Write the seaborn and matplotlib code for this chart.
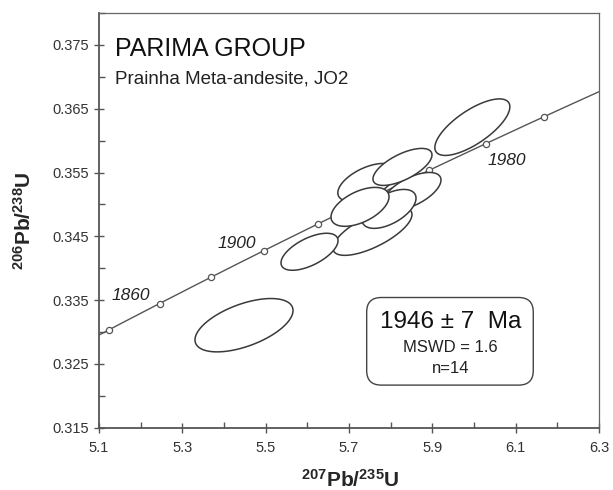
import numpy as np
import pandas as pd
import matplotlib
matplotlib.use('Agg')
import matplotlib.pyplot as plt
from matplotlib.patches import FancyBboxPatch
import seaborn as sns

# U-Pb zircon data (ellipse centres, half extents, correlation)
ell_x = [5.448, 5.996, 5.7432, 5.8511, 5.7563, 5.7960, 5.7264, 5.8283, 5.6052]
ell_y = [0.33107, 0.36211, 0.35345, 0.35204, 0.34578, 0.34930, 0.34962, 0.35588, 0.34258]
ell_dx = [0.1176, 0.090, 0.070, 0.0696, 0.0948, 0.0648, 0.0696, 0.0708, 0.0684]
ell_dy = [0.00418, 0.00443, 0.00297, 0.00297, 0.00376, 0.00305, 0.00305, 0.00290, 0.00290]
ell_rho = [0.55, 0.72, 0.55, 0.60, 0.70, 0.55, 0.52, 0.65, 0.60]

# concordia ages (Ma)
tick_ages = [1840, 1860, 1880, 1900, 1920, 1940, 1960, 1980, 2000]
label_ages = ['1860', '1900', '1980']
label_x = [5.1305, 5.3856, 6.0335]
label_y = [0.33498, 0.34312, 0.35611]

l238 = 1.55125e-10
l235 = 9.8485e-10

def concordia(age_ma):
    t = np.asarray(age_ma, dtype=float) * 1e6
    return np.exp(l235 * t) - 1, np.exp(l238 * t) - 1

sns.set_theme(style='ticks')
plt.rcParams['font.family'] = ['Liberation Sans', 'DejaVu Sans']
plt.rcParams['mathtext.fontset'] = 'custom'
plt.rcParams['mathtext.rm'] = 'Liberation Sans'
plt.rcParams['mathtext.bf'] = 'Liberation Sans:bold'

fig = plt.figure(figsize=(6.13, 4.9), dpi=100)
ax = fig.add_axes([0.1615, 0.1271, 0.8157, 0.8463])

# concordia curve
ages = np.arange(1830, 2031, 1)
cx, cy = concordia(ages)
curve = pd.DataFrame({'x207': cx, 'y206': cy})
sns.lineplot(data=curve, x='x207', y='y206', sort=False, color='#555555',
             linewidth=1.0, ax=ax, zorder=2)

mx, my = concordia(tick_ages)
marks = pd.DataFrame({'x207': mx, 'y206': my})
sns.scatterplot(data=marks, x='x207', y='y206', color='white', edgecolor='#555555',
                linewidth=0.9, s=20, ax=ax, zorder=2.5)

for lab, x, y in zip(label_ages, label_x, label_y):
    ax.text(x, y, lab, fontsize=12.5, style='italic', color='#222222', va='baseline')

# error ellipses
t = np.linspace(0, 2 * np.pi, 240)
for i in range(len(ell_x)):
    r = ell_rho[i]
    ex = ell_x[i] + ell_dx[i] * np.cos(t)
    ey = ell_y[i] + ell_dy[i] * (r * np.cos(t) + np.sqrt(1 - r * r) * np.sin(t))
    ax.fill(ex, ey, facecolor='white', edgecolor='#3a3a3a', linewidth=1.1, zorder=3 + i)

ax.set_xlim(5.1, 6.3)
ax.set_ylim(0.315, 0.380)
ax.set_xticks(np.arange(5.1, 6.31, 0.2))
ax.set_xticks(np.arange(5.2, 6.3, 0.2), minor=True)
ax.set_yticks(np.arange(0.315, 0.3751, 0.01))
ax.set_yticks(np.arange(0.320, 0.3801, 0.01), minor=True)
ax.set_xticklabels(['%.1f' % v for v in np.arange(5.1, 6.31, 0.2)])
ax.set_yticklabels(['%.3f' % v for v in np.arange(0.315, 0.3751, 0.01)])
ax.tick_params(which='major', direction='inout', length=7, width=1.0, colors='#555555',
               labelcolor='#333333', labelsize=10.5)
ax.tick_params(axis='x', which='major', pad=6)
ax.tick_params(axis='y', which='major', pad=4)
ax.tick_params(which='minor', direction='in', length=4, width=1.0, colors='#555555')
ax.set_xlabel('')
ax.set_ylabel('')
for side in ['left', 'bottom']:
    ax.spines[side].set_linewidth(1.3)
    ax.spines[side].set_color('#555555')
for side in ['top', 'right']:
    ax.spines[side].set_linewidth(0.9)
    ax.spines[side].set_color('#666666')

ax.text(5.138, 0.37333, 'PARIMA GROUP', fontsize=18, color='#111111', va='baseline')
ax.text(5.138, 0.36889, 'Prainha Meta-andesite, JO2', fontsize=13.5, color='#222222',
        va='baseline')

box = FancyBboxPatch((5.7424, 0.32168), 6.1422 - 5.7424, 0.33541 - 0.32168,
                     boxstyle='round,pad=0,rounding_size=0.035', mutation_aspect=0.0652,
                     facecolor='white', edgecolor='#444444', linewidth=1.0, zorder=20)
ax.add_patch(box)
ax.text(5.9442, 0.33056, '1946 ± 7  Ma', fontsize=17.5, ha='center', va='baseline',
        color='#111111', zorder=21)
ax.text(5.9442, 0.32689, 'MSWD = 1.6', fontsize=12, ha='center', va='baseline',
        color='#222222', zorder=21)
ax.text(5.9442, 0.32351, 'n=14', fontsize=12, ha='center', va='baseline',
        color='#222222', zorder=21)

fig.text(350 / 613, 1 - 486.7 / 490, r'$\mathbf{^{207}Pb/^{235}U}$', fontsize=15,
         ha='center', va='baseline')
fig.text(24 / 613, 1 - 221 / 490, r'$\mathbf{^{206}Pb/^{238}U}$', fontsize=15,
         ha='center', va='center', rotation=90)

fig.savefig('out.png', dpi=100)
